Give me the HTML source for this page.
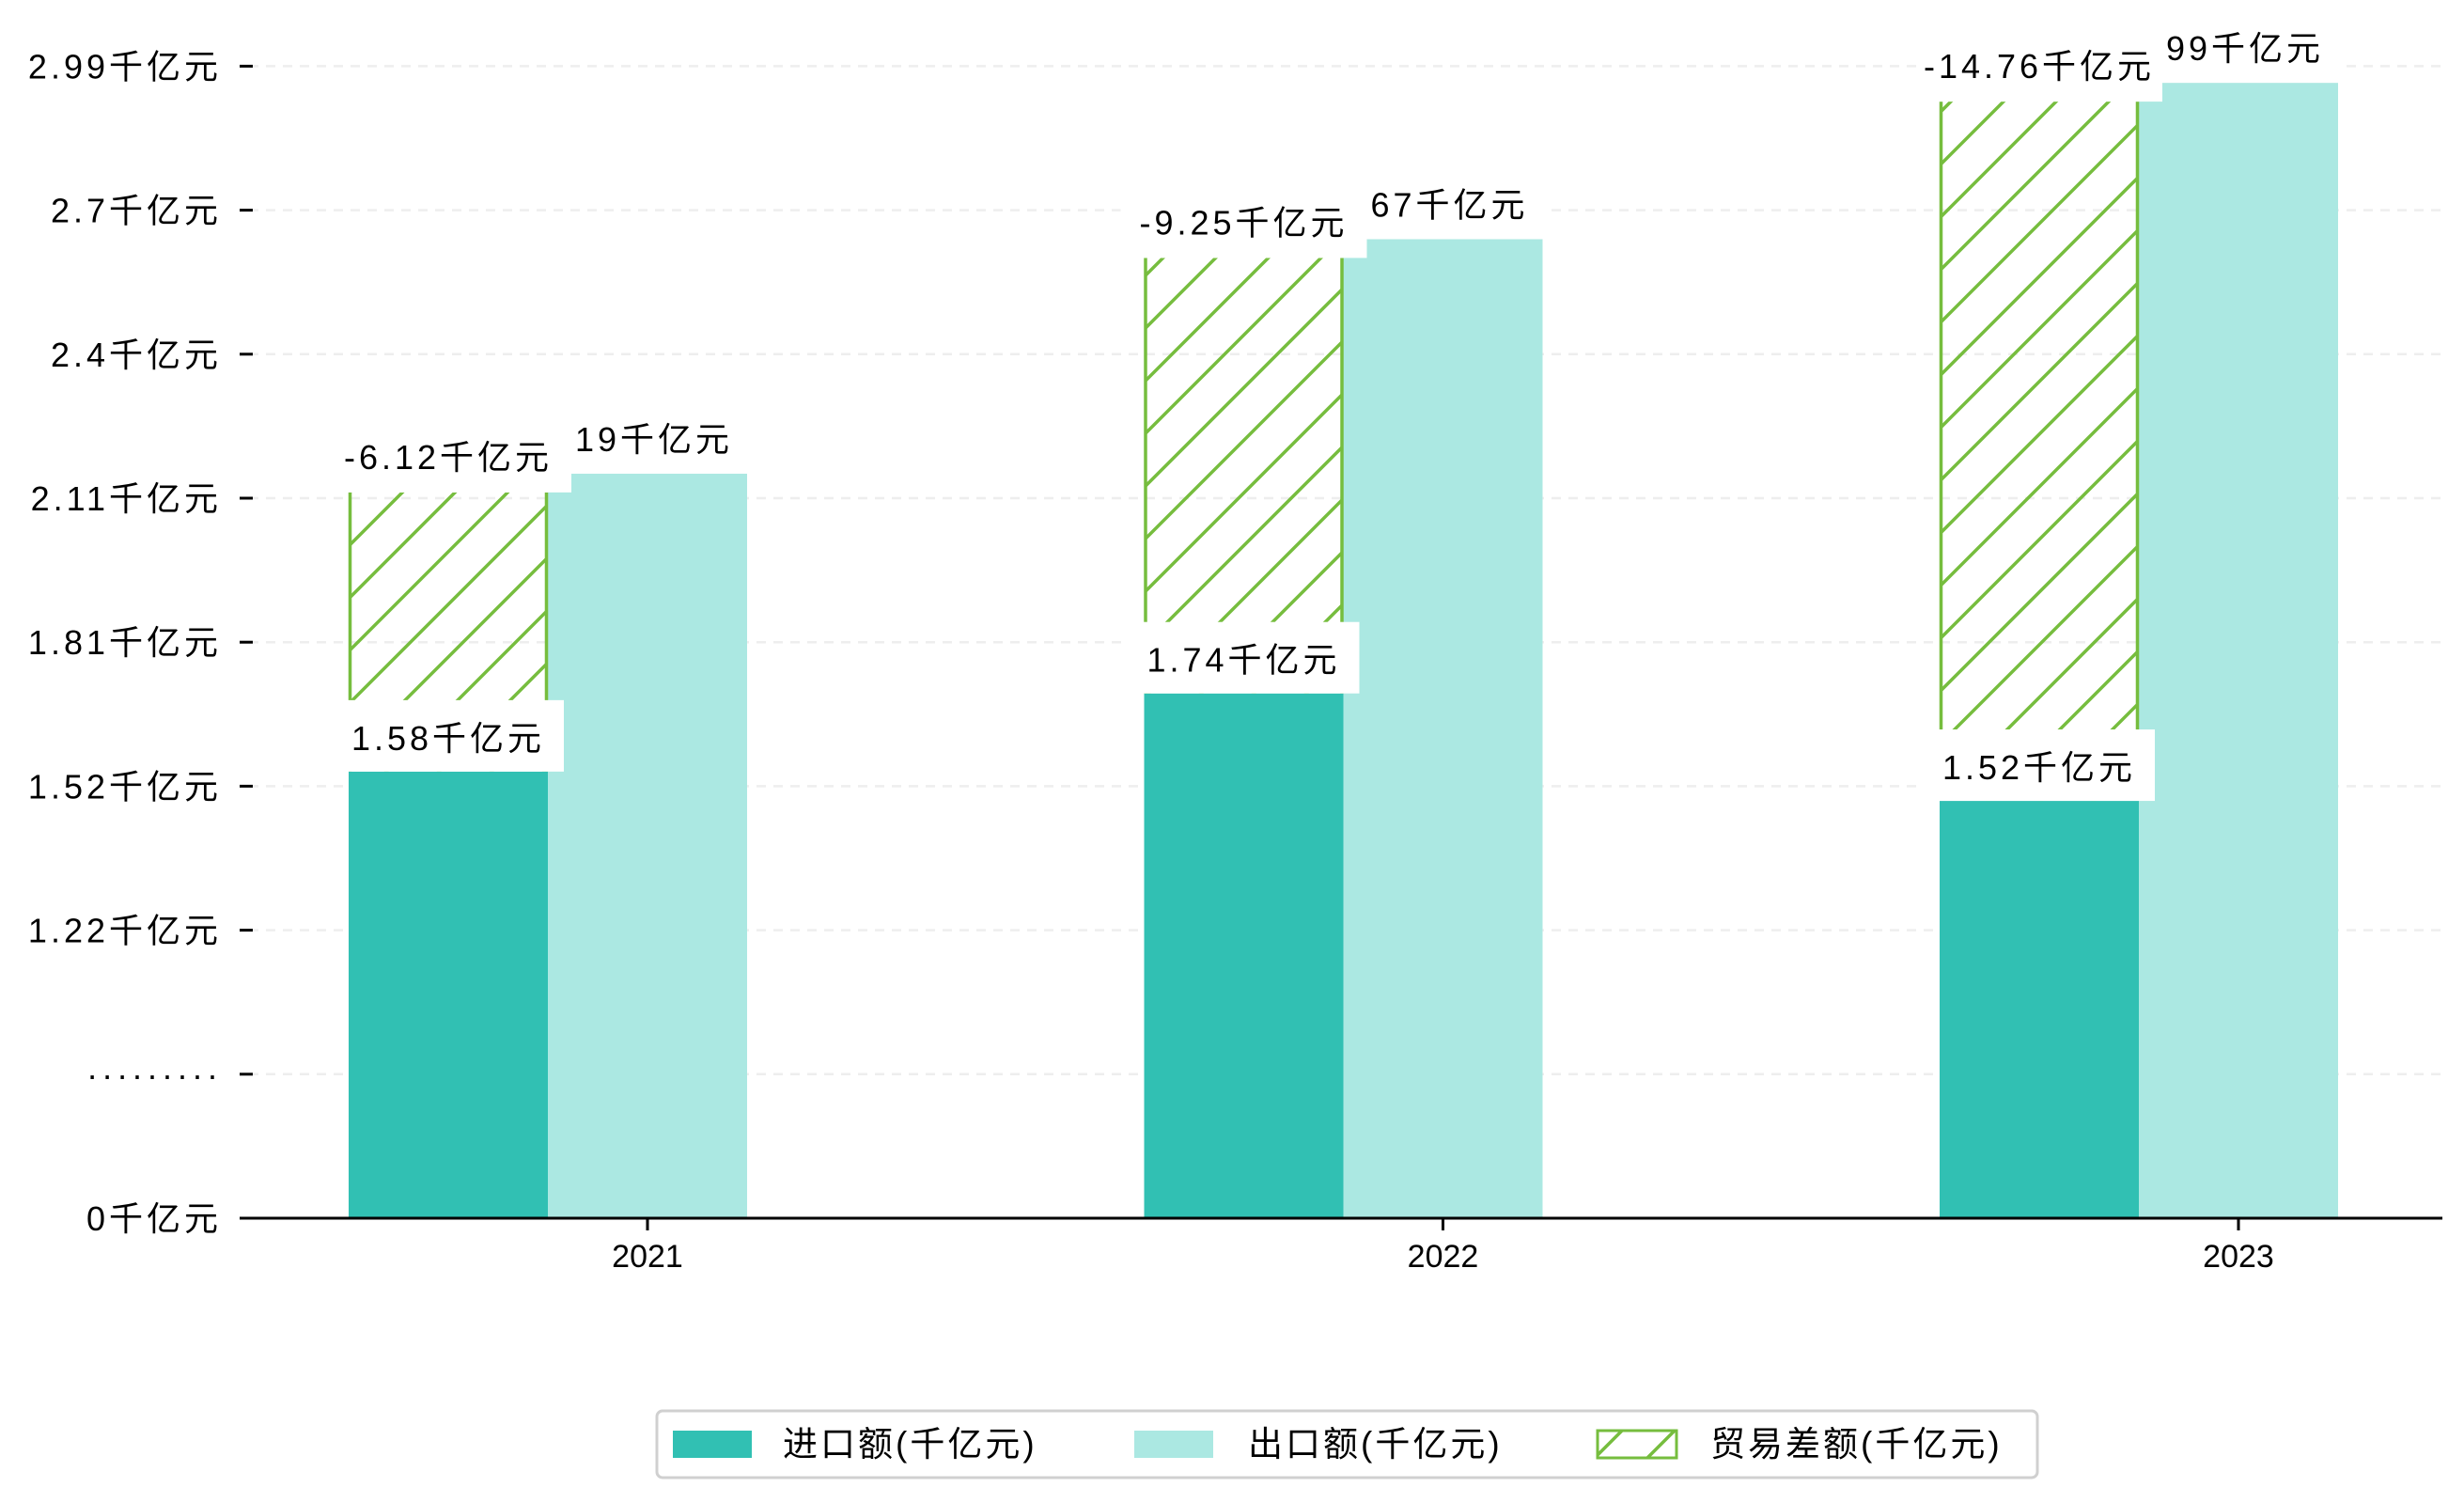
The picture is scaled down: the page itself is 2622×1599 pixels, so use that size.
<!DOCTYPE html>
<html><head><meta charset="utf-8">
<style>
html,body{margin:0;padding:0;background:#fff;}
svg{display:block;font-family:"Liberation Sans","Noto Sans CJK SC",sans-serif;}
</style></head>
<body>
<svg id="chart" width="2622" height="1599" viewBox="0 0 2622 1599" xmlns="http://www.w3.org/2000/svg">
<defs>
<pattern id="hatch" patternUnits="userSpaceOnUse" width="56" height="56">
<path d="M-14,14 L14,-14 M0,56 L56,0 M42,70 L70,42" stroke="#76bd3e" stroke-width="3.5"/>
</pattern>
</defs>
<g id="grid"></g>
<g id="bars"></g>
<g id="labels"></g>
<g id="axes"></g>
<g id="legend"></g>
</svg>
<script>
const categories = ["2021","2022","2023"];
const importValues = [1.58, 1.74, 1.52];
const exportValues = [2.19, 2.67, 2.99];
const balanceValues = [-6.12, -9.25, -14.76];
const exportLabels = ["2.19千亿元","2.67千亿元","2.99千亿元"];
const yTickLabels = ["0千亿元","·········","1.22千亿元","1.52千亿元","1.81千亿元","2.11千亿元","2.4千亿元","2.7千亿元","2.99千亿元"];

const NS="http://www.w3.org/2000/svg";
const axisY=1296, plotL=255, plotR=2599;
function yScale(v){ return 1642 - 519.7*v; }
function xCenter(i){ return 689 + i*846.5; }
const BW=212;
function tickY(i){ return axisY - i*153.2; }
function mk(tag, parent, attrs){ const e=document.createElementNS(NS,tag); for(const k in attrs) e.setAttribute(k,attrs[k]); parent.appendChild(e); return e; }

const grid=document.getElementById('grid'), bars=document.getElementById('bars'), labels=document.getElementById('labels'), axes=document.getElementById('axes'), legend=document.getElementById('legend');

yTickLabels.forEach((t,i)=>{
  const y=tickY(i);
  if(i>0){
    const g=mk('line',grid,{x1:plotL+10,x2:plotR,y1:y,y2:y,stroke:'#eeeeee','stroke-width':2.5,'stroke-dasharray':'10,8'});
    
    
  }
  const tm=mk('line',axes,{x1:plotL,x2:plotL+14,y1:y,y2:y,stroke:'#000','stroke-width':3});
  
  
  const tx=mk('text',axes,{x:236,y:y+13,'text-anchor':'end','font-size':36,fill:'#000','letter-spacing':4});
  tx.textContent=t;
  
  
});

function labelBox(parent,cx,cyText,text,w,boxTop,boxBottom,name){
  const g=mk('g',parent,{});
  
  
  mk('rect',g,{x:cx-w/2,y:boxTop,width:w,height:boxBottom-boxTop,fill:'#fff'});
  const t=mk('text',g,{x:cx,y:cyText+13,'text-anchor':'middle','font-size':36,fill:'#000','letter-spacing':4});
  t.textContent=text;
  return g;
}

categories.forEach((c,i)=>{
  const cx=xCenter(i);
  const ix=cx-1.5*BW, ex=cx-0.5*BW;
  const iy=yScale(importValues[i]), ey=yScale(exportValues[i]);
  const r1=mk('rect',bars,{x:ix,y:iy,width:BW,height:axisY-iy,fill:'#31c0b3'});
  
  
  const r2=mk('rect',bars,{x:ex,y:ey,width:BW,height:axisY-ey,fill:'#abe8e2'});
  
  
  const hTop=ey+20;
  const r3=mk('rect',bars,{x:ix,y:hTop,width:BW,height:iy-hTop,fill:'url(#hatch)'});
  
  
  mk('line',bars,{x1:ix+1.5,x2:ix+1.5,y1:hTop,y2:iy,stroke:'#76bd3e','stroke-width':3.5});
  mk('line',bars,{x1:ix+BW-1.5,x2:ix+BW-1.5,y1:hTop,y2:iy,stroke:'#76bd3e','stroke-width':3.5});
  labelBox(labels,ex+BW/2-12,ey-37,exportLabels[i],250,ey-72,ey,'export-label-'+c);
  labelBox(labels,ix+BW/2,hTop-38,balanceValues[i].toFixed(2)+'千亿元',262,hTop-72,hTop,'balance-label-'+c);
  labelBox(labels,ix+BW/2,iy-36,importValues[i].toFixed(2)+'千亿元',246,iy-76,iy,'import-label-'+c);
  const xt=mk('line',axes,{x1:cx,x2:cx,y1:axisY,y2:axisY+13,stroke:'#000','stroke-width':3});
  
  
  const xl=mk('text',axes,{x:cx,y:axisY+52,'text-anchor':'middle','font-size':34,fill:'#000'});
  xl.textContent=c;
  
  
});
const ax=mk('line',axes,{x1:plotL,x2:plotR,y1:axisY,y2:axisY,stroke:'#000','stroke-width':3});



const lb=mk('rect',legend,{x:699,y:1501,width:1469,height:71,rx:6,fill:'#fff',stroke:'#d0d0d0','stroke-width':3});


const entries=[["进口额(千亿元)","#31c0b3",716,833],["出口额(千亿元)","#abe8e2",1207,1328],["贸易差额(千亿元)","url(#hatch)",1700,1820]];
entries.forEach((e,i)=>{
  const g=mk('g',legend,{});
  
  
  const attrs={x:e[2],y:1522,width:84,height:29,fill:e[1]};
  if(i===2){attrs.stroke='#76bd3e';attrs['stroke-width']=3;}
  mk('rect',g,attrs);
  const t=mk('text',g,{x:e[3],y:1549,'font-size':37,fill:'#000','letter-spacing':3});
  t.textContent=e[0];
});
</script>
</body></html>
